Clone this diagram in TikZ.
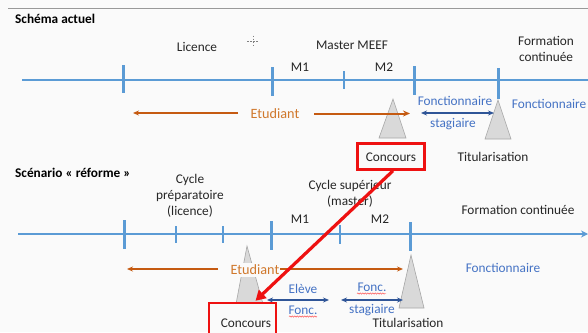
\documentclass[tikz,border=0pt]{standalone}
\usepackage{fontspec}
\setmainfont{Carlito}
\usetikzlibrary{arrows.meta,decorations.pathmorphing}
\definecolor{tlblue}{HTML}{5B9BD5}
\definecolor{orng}{HTML}{C55A11}
\definecolor{otext}{HTML}{D0782C}
\definecolor{dblue}{HTML}{2F5597}
\definecolor{tblue}{HTML}{4472C4}
\definecolor{trif}{HTML}{D9D9D9}
\definecolor{tria}{HTML}{A6A6A6}
\definecolor{bg}{HTML}{FAFAFA}
\definecolor{txt}{HTML}{262626}
\definecolor{redbox}{HTML}{EE1111}
\tikzset{
  tline/.style={draw=tlblue, line width=2pt},
  bigtick/.style={draw=tlblue, line width=3pt},
  smalltick/.style={draw=tlblue, line width=1.6pt},
  lbl/.style={inner sep=1pt, text=txt, align=center},
  hdr/.style={inner sep=1pt, text=black, font=\fontsize{13.3}{15}\selectfont\bfseries, anchor=west},
  etud/.style={inner sep=2pt, text=otext, fill=bg, font=\fontsize{14.2}{16}\selectfont},
  fonct/.style={inner sep=1pt, text=tblue},
  orarrow/.style={draw=orng, line width=1.8pt, -{Stealth[length=6pt,width=5pt]}},
  dbarrow/.style={draw=dblue, line width=1.6pt, {Stealth[length=6pt,width=5pt]}-{Stealth[length=6pt,width=5pt]}},
  tri/.style={fill=trif, draw=tria, line width=0.6pt},
  concbox/.style={draw=redbox, line width=2.5pt, fill=bg, inner sep=0pt},
  wavy/.style={draw=red!80, line width=0.4pt, decorate, decoration={snake, amplitude=0.7pt, segment length=2.5pt}}
}
\begin{document}
\begin{tikzpicture}[x=1pt,y=-1pt, font=\fontsize{13.3}{15}\selectfont]
\fill[bg] (0,0) rectangle (588,332);
\useasboundingbox (0,0) rectangle (588,332);
\draw[gray!80, line width=1pt] (8,8) -- (588,8);

% ---------- Schéma actuel ----------
\node[hdr] (h1) at (14,19) {Schéma actuel};
\draw[tline] (22,80) -- (588,80);
\draw[bigtick] (123,65) -- (123,93);
\draw[bigtick] (272,67) -- (272,96);
\draw[smalltick] (344,71) -- (344,89);
\draw[bigtick] (414,66) -- (414,95);
\draw[bigtick] (498,68) -- (498,99);

\draw[gray, line width=0.6pt, dash pattern=on 1.5pt off 1.5pt] (247,41.5) -- (259,41.5) (253,35.5) -- (253,47.5);

\node[lbl] (lic) at (197,47) {Licence};
\node[lbl] (meef) at (352,45) {Master MEEF};
\node[lbl] (m1a) at (300,67) {M1};
\node[lbl] (m2a) at (384,67) {M2};
\node[lbl, font=\fontsize{13.3}{16}\selectfont] (fca) at (546,49) {Formation\\continuée};

\draw[tri] (393,99) -- (406,138) -- (379,138) -- cycle;
\draw[tri] (498,100) -- (511,139) -- (485,139) -- cycle;

\node[etud] (etudA) at (275,114) {Etudiant};
\draw[orarrow] (238,113) -- (133,113);

\node[fonct] (fs1) at (455,101) {Fonctionnaire};
\node[fonct] (st1) at (453,124) {stagiaire};
\draw[dbarrow] (421,113) -- (494,113);
\node[fonct, anchor=east] (fo1) at (587.5,104) {Fonctionnaire};

\node[concbox, minimum width=67pt, minimum height=26pt] (conc1) at (391,156.5) {};
\node[lbl] (c1t) at (391,157) {Concours};
\node[lbl] (tit1) at (493,157) {Titularisation};

% ---------- Scénario réforme ----------
\node[hdr] (h2) at (14,173) {Scénario « réforme »};
\node[lbl, font=\fontsize{13.3}{16.3}\selectfont] (cyp) at (190,196) {Cycle\\préparatoire\\(licence)};
\draw[tline, -{Stealth[length=7pt,width=7pt]}] (18,234) -- (588,234);
\draw[bigtick] (124,220) -- (124,249);
\draw[smalltick] (176,226) -- (176,243);
\draw[smalltick] (223,226) -- (223,243);
\draw[bigtick] (271,221) -- (271,250);
\draw[smalltick] (340,225) -- (340,244);
\draw[bigtick] (410,222) -- (410,251);

\node[lbl] (m1b) at (300,219) {M1};
\node[lbl] (m2b) at (380,219) {M2};
\node[lbl, font=\fontsize{13.3}{16}\selectfont] (cys) at (350,194) {Cycle supérieur\\(master)};
\node[lbl] (fcb) at (518,210) {Formation continuée};

\draw[tri] (247,246) -- (263,304) -- (236,304) -- cycle;
\draw[tri] (411,255) -- (424,308) -- (399,308) -- cycle;

\node[etud] (etudB) at (255,270) {Etudiant};
\draw[orarrow] (218,269) -- (127,269);
\draw[orarrow] (280,269) -- (403,269);

\node[fonct] (elv) at (303,289) {Elève};
\node[fonct] (fc1) at (303,310) {Fonc.};
\draw[wavy] (289,316.5) -- (317,316.5);
\draw[dbarrow] (267,300) -- (329,300);

\node[fonct] (fc2) at (372,287) {Fonc.};
\draw[wavy] (357,293.5) -- (386,293.5);
\node[fonct] (st2) at (372,310) {stagiaire};
\draw[dbarrow] (341,300) -- (403,300);

\node[fonct] (fo2) at (503,268) {Fonctionnaire};
\node[lbl] (tit2) at (408,323) {Titularisation};

\begin{scope}
\clip (0,0) rectangle (588,332);
\node[concbox, minimum width=67pt, minimum height=40pt] (conc2) at (242.5,323) {};
\end{scope}
\node[lbl] (c2t) at (246,323) {Concours};

% top right orange arrow, drawn late and a bit thicker
\draw[draw=orng, line width=2pt, -{Stealth[length=7pt,width=6pt]}] (314,113.5) -- (410,113.5);

% red arrow
\draw[draw=redbox, line width=3.2pt, -{Triangle[length=10pt,width=11pt]}]
  ([xshift=2pt]conc1.south) -- ([xshift=13pt,yshift=1pt]conc2.north);
\end{tikzpicture}
\end{document}
